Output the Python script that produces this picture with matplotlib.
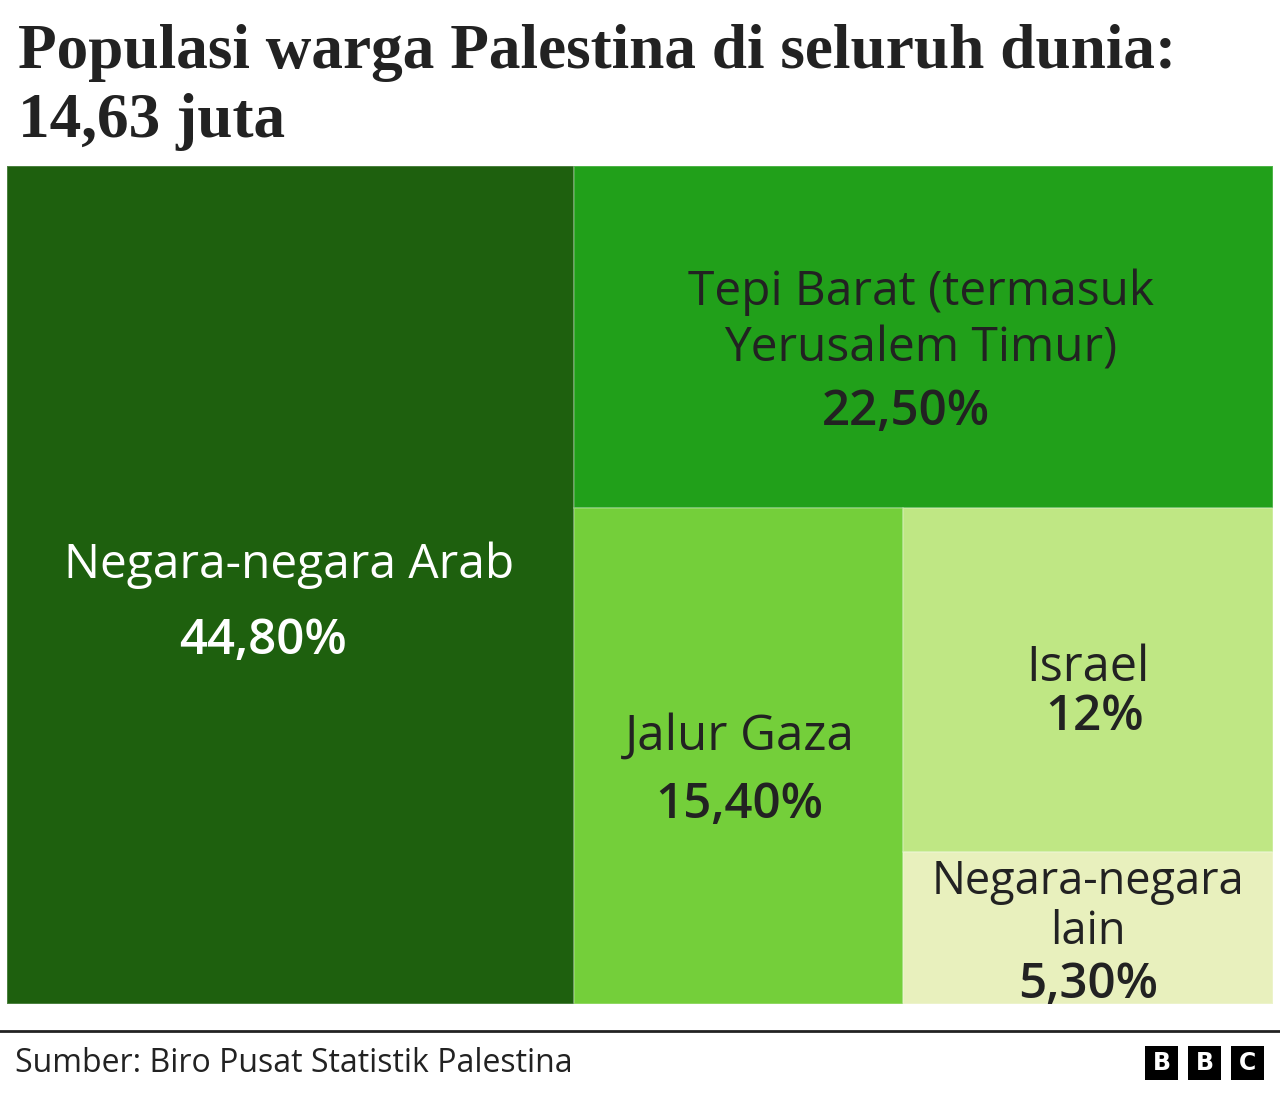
import matplotlib
matplotlib.use('Agg')
import matplotlib.pyplot as plt
from matplotlib.patches import Rectangle

# data
regions = ['Negara-negara Arab', 'Tepi Barat (termasuk\nYerusalem Timur)', 'Jalur Gaza',
           'Israel', 'Negara-negara\nlain']
shares = [44.8, 22.5, 15.4, 12.0, 5.3]
share_labels = ['44,80%', '22,50%', '15,40%', '12%', '5,30%']

title = 'Populasi warga Palestina di seluruh dunia:\n14,63 juta'
source = 'Sumber: Biro Pusat Statistik Palestina'

# styles
colors = ['#1e600e', '#21a01a', '#74cf3a', '#bfe784', '#e8f0bd']
text_colors = ['white', '#222222', '#222222', '#222222', '#222222']
# (name dx, name dy, pct dx, pct dy, linespacing, name size) offsets from the cell centre in px
label_offsets = [(-1, -20, -28, 56, 1.2, 34.5),
                 (-3, -16, -18, 76, 1.24, 34.5),
                 (1, -19, 1, 50, 1.2, 35.5),
                 (0, -11, 6, 38, 1.2, 35),
                 (0, -21, 0, 58, 1.13, 32.5)]

FW, FH = 1280, 1096
X0, X1, Y0, Y1 = 7, 1273, 166, 1004
W, H = X1 - X0, Y1 - Y0
LABEL_FONT = ['Open Sans', 'DejaVu Sans']


def slice_dice(values, w, h):
    # alternate vertical / horizontal cuts, like the original layout
    rects = []
    x, y = 0.0, 0.0
    vertical = True
    for i, v in enumerate(values):
        if i == len(values) - 1:
            rects.append((x, y, w, h))
            break
        rest = sum(values[i:])
        if vertical:
            cw = w * v / rest
            rects.append((x, y, cw, h))
            x += cw
            w -= cw
        else:
            ch = h * v / rest
            rects.append((x, y, w, ch))
            y += ch
            h -= ch
        vertical = not vertical
    return rects


fig = plt.figure(figsize=(FW / 100, FH / 100), dpi=100)
ax = fig.add_axes([X0 / FW, 1 - Y1 / FH, W / FW, H / FH])
ax.set_xlim(0, W)
ax.set_ylim(H, 0)
ax.axis('off')

for rect, name, pct, c, tc, off in zip(slice_dice(shares, W, H), regions, share_labels,
                                       colors, text_colors, label_offsets):
    x, y, w, h = rect
    ax.add_patch(Rectangle((x, y), w, h, facecolor=c, edgecolor=(1, 1, 1, 0.25), linewidth=1.2))
    cx, cy = x + w / 2, y + h / 2
    ax.text(cx + off[0], cy + off[1], name, ha='center', va='center', color=tc,
            fontsize=off[5], family=LABEL_FONT, linespacing=off[4], multialignment='center')
    ax.text(cx + off[2], cy + off[3], pct, ha='center', va='center', color=tc,
            fontsize=35.5, family=LABEL_FONT, fontweight='semibold')

fig.text(18 / FW, 1 - 24 / FH, title, ha='left', va='top', fontsize=45.5,
         family='Liberation Serif', fontweight='bold', color='#222222', linespacing=1.24)

fig.add_artist(plt.Line2D([0, 1], [1 - 1031 / FH] * 2, color='#222222', linewidth=2))
fig.text(15 / FW, 1 - 1063 / FH, source, ha='left', va='center', fontsize=23,
         family=LABEL_FONT, color='#222222')

# BBC blocks
for i, letter in enumerate('BBC'):
    bx = 1145 + i * 43
    fig.add_artist(Rectangle((bx / FW, 1 - 1080 / FH), 33 / FW, 34 / FH, facecolor='black',
                             transform=fig.transFigure))
    fig.text((bx + 16.5) / FW, 1 - 1063 / FH, letter, ha='center', va='center', color='white',
             fontsize=17, fontweight='bold', family='DejaVu Sans')

fig.savefig('out.png', dpi=100, facecolor='white')
